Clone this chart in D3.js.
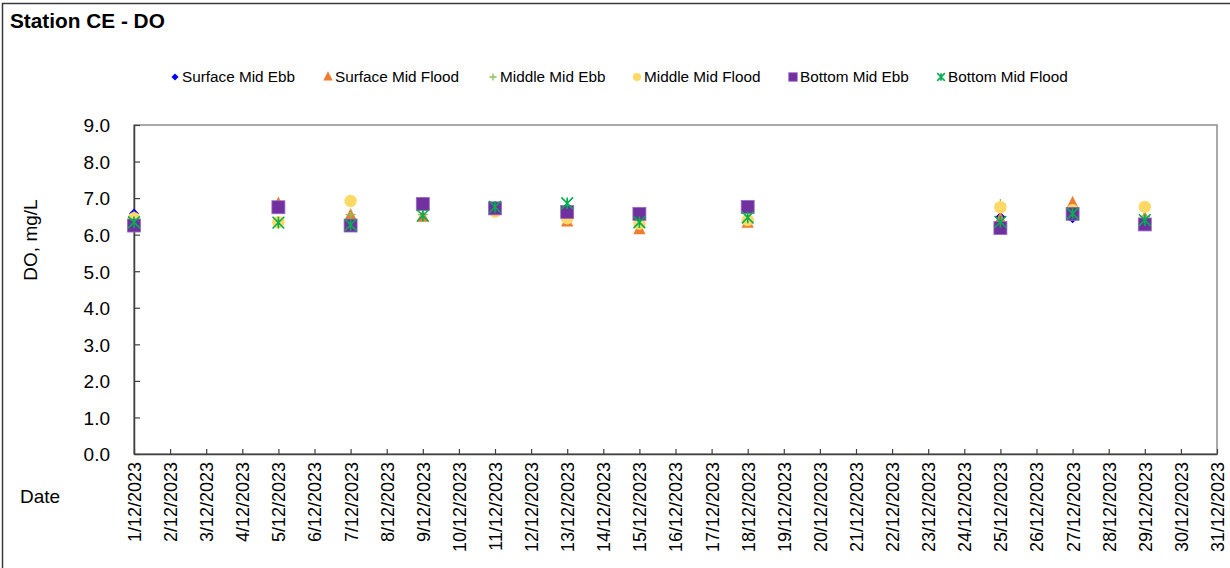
<!DOCTYPE html>
<html>
<head>
<meta charset="utf-8">
<script src="https://cdn.jsdelivr.net/npm/d3@7/dist/d3.min.js"></script>
<style>
  html, body { margin: 0; padding: 0; background: #fff; }
  svg { display: block; font-family: "Liberation Sans", Arial, sans-serif; }
</style>
</head>
<body>
<svg id="chart" width="1230" height="568"></svg>
<script>
// Sampling days in December 2023
const sampleDays = [1, 5, 7, 9, 11, 13, 15, 18, 25, 27, 29];

// Dissolved oxygen (mg/L) per series, one value per sampling day
const surfaceMidEbb   = [6.58, 6.75, 6.30, 6.82, 6.72, 6.62, 6.60, 6.38, 6.48, 6.45, 6.35];
const surfaceMidFlood = [6.46, 6.84, 6.52, 6.48, 6.70, 6.35, 6.14, 6.32, 6.42, 6.86, 6.45];
const middleMidEbb    = [6.40, 6.33, 6.55, 6.55, 6.72, 6.50, 6.35, 6.45, 6.84, 6.55, 6.50];
const middleMidFlood  = [6.45, 6.34, 6.92, 6.87, 6.63, 6.45, 6.30, 6.40, 6.75, 6.67, 6.76];
const bottomMidEbb    = [6.25, 6.75, 6.25, 6.84, 6.72, 6.62, 6.57, 6.76, 6.18, 6.57, 6.28];
const bottomMidFlood  = [6.34, 6.33, 6.27, 6.52, 6.76, 6.86, 6.34, 6.47, 6.35, 6.58, 6.40];

const seriesNames = ["Surface Mid Ebb", "Surface Mid Flood", "Middle Mid Ebb",
                     "Middle Mid Flood", "Bottom Mid Ebb", "Bottom Mid Flood"];

// Axis ticks
const xTickDays = d3.range(1, 32);
const xTickLabels = xTickDays.map(d => d + "/12/2023");
const yTickValues = d3.range(0, 10);

const series = [
  { name: seriesNames[0], values: surfaceMidEbb,   shape: "diamond",  color: "#0000FF" },
  { name: seriesNames[1], values: surfaceMidFlood, shape: "triangle", color: "#ED7D31" },
  { name: seriesNames[2], values: middleMidEbb,    shape: "plus",     color: "#8FBF5A" },
  { name: seriesNames[3], values: middleMidFlood,  shape: "circle",   color: "#FFD966" },
  { name: seriesNames[4], values: bottomMidEbb,    shape: "square",   color: "#7030A0" },
  { name: seriesNames[5], values: bottomMidFlood,  shape: "star",     color: "#00B050" }
];

const svg = d3.select("#chart");
const W = 1230, H = 568;
const plot = { left: 134, right: 1217, top: 125, bottom: 454 };

const x = d3.scaleLinear().domain([1, 31]).range([plot.left, plot.right]);
const y = d3.scaleLinear().domain([0, 9]).range([plot.bottom, plot.top]);

// Outer chart frame
svg.append("rect")
  .attr("x", 2.5).attr("y", 3.5)
  .attr("width", W + 20).attr("height", H + 20)
  .attr("fill", "none").attr("stroke", "#3a3a3a").attr("stroke-width", 1.5);

// Title
svg.append("text")
  .attr("x", 10).attr("y", 28)
  .attr("font-size", 20.8).attr("font-weight", "bold").attr("fill", "#000")
  .text("Station CE - DO");

// Plot area frame (top/right)
svg.append("rect")
  .attr("x", plot.left).attr("y", plot.top)
  .attr("width", plot.right - plot.left).attr("height", plot.bottom - plot.top)
  .attr("fill", "none").attr("stroke", "#8c8c8c").attr("stroke-width", 1.5);

// Y axis
const yAxis = svg.append("g")
  .attr("transform", `translate(${plot.left},0)`)
  .call(d3.axisLeft(y).tickValues(yTickValues).tickFormat(d3.format(".1f"))
          .tickSize(-6).tickSizeOuter(0).tickPadding(24));
yAxis.select(".domain").attr("stroke", "#404040").attr("stroke-width", 1.5);
yAxis.selectAll(".tick line").attr("stroke", "#404040").attr("stroke-width", 1.2);
yAxis.selectAll(".tick text")
  .attr("font-size", 19).attr("fill", "#000")
  .attr("font-family", "Liberation Sans, Arial, sans-serif")
  .attr("dy", "0.36em");

// X axis
const xAxis = svg.append("g")
  .attr("transform", `translate(0,${plot.bottom})`)
  .call(d3.axisBottom(x).tickValues(xTickDays)
          .tickFormat((d, i) => xTickLabels[i])
          .tickSize(-5).tickSizeOuter(0));
xAxis.select(".domain").attr("stroke", "#404040").attr("stroke-width", 1.5);
xAxis.selectAll(".tick line").attr("stroke", "#404040").attr("stroke-width", 1.2);
xAxis.selectAll(".tick text")
  .attr("font-size", 18).attr("fill", "#000")
  .attr("font-family", "Liberation Sans, Arial, sans-serif")
  .attr("transform", "rotate(-90)")
  .attr("x", -8).attr("y", 0).attr("dy", "0.36em")
  .style("text-anchor", "end");

// Axis titles
svg.append("text")
  .attr("transform", `translate(37,${240}) rotate(-90)`)
  .attr("text-anchor", "middle")
  .attr("font-size", 19).attr("fill", "#000")
  .text("DO, mg/L");
svg.append("text")
  .attr("x", 20).attr("y", 503)
  .attr("font-size", 19).attr("fill", "#000")
  .text("Date");

// Marker drawing (s = nominal marker size in px)
function drawMarker(g, shape, color, s) {
  switch (shape) {
    case "diamond": {
      const h = s * 0.42;
      g.append("path").attr("d", `M0,${-h}L${h},0L0,${h}L${-h},0Z`).attr("fill", color);
      break;
    }
    case "triangle": {
      const w = s * 0.47, t = s * 0.58, b = s * 0.36;
      g.append("path").attr("d", `M0,${-t}L${w},${b}L${-w},${b}Z`).attr("fill", color);
      break;
    }
    case "plus": {
      const h = s * 0.42;
      g.append("path").attr("d", `M${-h},0H${h}M0,${-h}V${h}`)
        .attr("stroke", color).attr("stroke-width", 1.3).attr("fill", "none");
      break;
    }
    case "circle":
      g.append("circle").attr("r", s * 0.48).attr("fill", color);
      break;
    case "square":
      g.append("rect").attr("x", -s / 2).attr("y", -s / 2)
        .attr("width", s).attr("height", s).attr("fill", color)
        .attr("stroke", "#9a6cc0").attr("stroke-width", 0.8);
      break;
    case "star": {
      const h = s * 0.45;
      g.append("path").attr("d", `M${-h},${-h}L${h},${h}M${-h},${h}L${h},${-h}M0,${-h}V${h}`)
        .attr("stroke", color).attr("stroke-width", 1.6).attr("fill", "none");
      break;
    }
  }
}

const markerSize = { diamond: 12, triangle: 13, plus: 12, circle: 13, square: 13, star: 13 };

// Data points, drawn series by series
series.forEach(sr => {
  const layer = svg.append("g").attr("class", "series");
  sampleDays.forEach((day, i) => {
    const g = layer.append("g")
      .attr("transform", `translate(${x(day)},${y(sr.values[i])})`);
    drawMarker(g, sr.shape, sr.color, markerSize[sr.shape]);
  });
});

// Legend: one row, marker followed by label
const legendX = [175, 328, 493, 637, 793, 941];
const ly = 77;
const legend = svg.append("g").attr("class", "legend");
series.forEach((sr, i) => {
  const item = legend.append("g");
  const m = item.append("g").attr("transform", `translate(${legendX[i]},${ly})`);
  drawMarker(m, sr.shape, sr.color, sr.shape === "triangle" ? 10 : 8.5);
  item.append("text")
    .attr("x", legendX[i] + 7).attr("y", ly).attr("dy", "0.35em")
    .attr("font-size", 15.3).attr("fill", "#000")
    .text(sr.name);
});
</script>
</body>
</html>
